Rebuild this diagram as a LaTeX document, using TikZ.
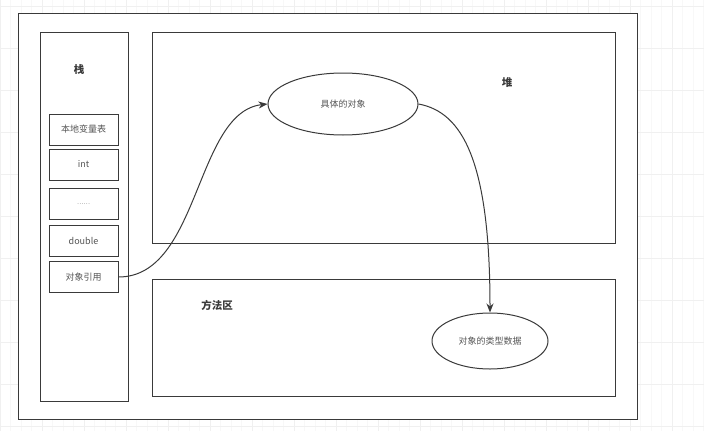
\documentclass[tikz,border=0pt]{standalone}
\usepackage{fontspec}
\newfontfamily\cjk{Noto Sans CJK SC}
\usetikzlibrary{shapes.geometric,arrows.meta}
\definecolor{ink}{HTML}{3A3A3A}
\definecolor{lbl}{HTML}{555555}
\definecolor{gridminor}{HTML}{F8F8F8}
\definecolor{gridmajor}{HTML}{F0F0F0}
\tikzset{
  x=1pt, y=-1pt,
  frame/.style={draw=ink, line width=1pt, fill=white},
  slot/.style={draw=ink, line width=1pt, fill=white, minimum width=69pt, minimum height=31pt, inner sep=0pt, font=\cjk\fontsize{9}{10}\selectfont, text=lbl},
  blob/.style={ellipse, draw=ink, line width=1pt, fill=white, inner sep=0pt, font=\cjk\fontsize{9}{10}\selectfont, text=lbl},
  title/.style={font=\cjk\bfseries\fontsize{10.5}{12}\selectfont, text=ink},
  link/.style={draw=ink, line width=1pt, -{Stealth[length=9pt,width=7pt]}}
}
\begin{document}
\begin{tikzpicture}
\useasboundingbox (0,0) rectangle (704,431);
% canvas grid
\fill[white] (0,0) rectangle (704,431);
\draw[gridminor, line width=0.4pt] (0,0) grid[step=10.5] (704,431);
\foreach \gx in {0,42,...,700} \draw[gridmajor, line width=0.5pt] (\gx,0) -- (\gx,431);
\foreach \gy in {6,48,...,431} \draw[gridmajor, line width=0.5pt] (0,\gy) -- (704,\gy);
% outer frame and regions
\draw[frame] (18,13) rectangle (637,419);
\draw[frame] (40,32) rectangle (128,401);
\draw[frame] (152,32) rectangle (615,243);
\draw[frame] (152,279) rectangle (615,396);
\node[title] (stack) at (79,70) {栈};
\node[title] (heap) at (507,83) {堆};
\node[title] (method) at (217,305) {方法区};
% stack slots
\node[slot] (s1) at (83.5,129.5) {本地变量表};
\node[slot] (s2) at (83.5,164.5) {int};
\node[slot] (s3) at (83.5,204) {\fontsize{6}{7}\selectfont ……};
\node[slot] (s4) at (83.5,241) {double};
\node[slot] (s5) at (83.5,277) {对象引用};
% objects
\node[blob, minimum width=150pt, minimum height=62pt] (obj) at (343,104) {具体的对象};
\node[blob, minimum width=116pt, minimum height=56pt] (cls) at (490,341) {对象的类型数据};
% references
\draw[link] (s5.east) .. controls (200,277) and (195,112) .. (obj.west);
\draw[link] (obj.east) .. controls (462,112) and (490,160) .. (cls.north);
\end{tikzpicture}
\end{document}
